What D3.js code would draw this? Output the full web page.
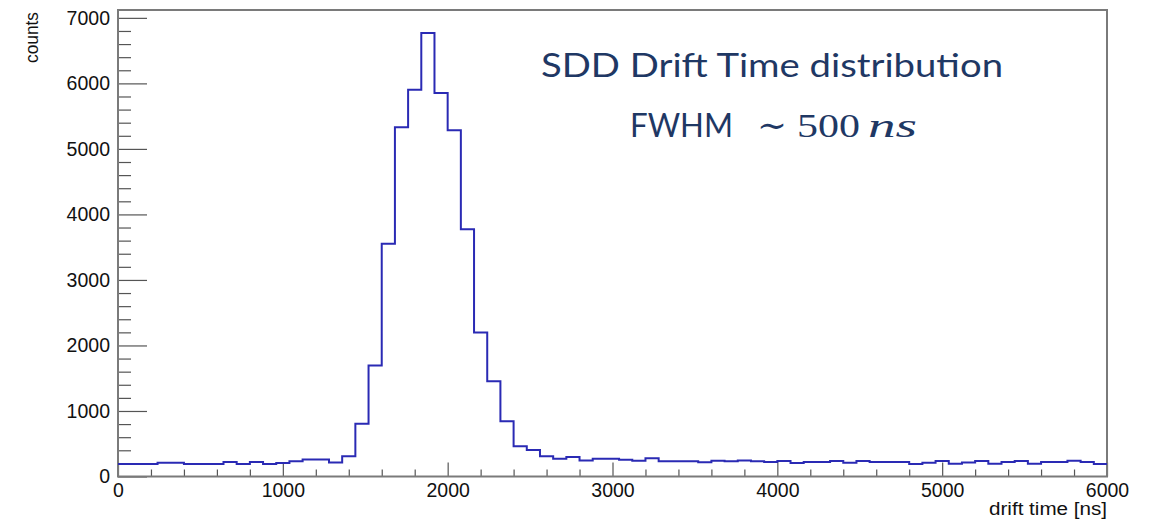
<!DOCTYPE html>
<html>
<head>
<meta charset="utf-8">
<script src="https://cdn.jsdelivr.net/npm/d3@7"></script>
<style>
  html, body { margin: 0; padding: 0; background: #fff; }
  svg { display: block; }
  .tick text { font-family: "Liberation Sans", Arial, sans-serif; fill: #111; }
</style>
</head>
<body>
<svg id="chart" width="1154" height="521"></svg>
<script>
// ---- data ----
const binWidth = 80;            // ns per bin
const xDomain = [0, 6000];      // drift time [ns]
const yDomain = [0, 7120];      // counts
const counts = [
  190, 190, 190, 210, 210, 190, 190, 190, 220, 190,
  220, 190, 205, 231, 261, 261, 215, 310, 805, 1696,
  3551, 5332, 5904, 6770, 5852, 5286, 3774, 2196, 1452, 845,
  460, 403, 310, 272, 298, 246, 271, 271, 256, 241,
  277, 231, 231, 231, 216, 241, 231, 246, 231, 220,
  236, 205, 220, 220, 236, 210, 236, 220, 220, 220,
  190, 210, 236, 195, 215, 236, 195, 220, 236, 195,
  220, 220, 241, 220, 190
];
const xMajorTicks = [0, 1000, 2000, 3000, 4000, 5000, 6000];
const yMajorTicks = [0, 1000, 2000, 3000, 4000, 5000, 6000, 7000];
const xMinorStep = 200;
const yMinorStep = 200;
const titleLine1 = "SDD Drift Time distribution";
const xTitle = "drift time [ns]";
const yTitle = "counts";

// ---- layout ----
const L = 118, R = 1107, T = 10, B = 476.5;
const svg = d3.select("#chart");

const x = d3.scaleLinear().domain(xDomain).range([L, R]);
const y = d3.scaleLinear().domain(yDomain).range([B, T]);

const xMinor = d3.range(xDomain[0], xDomain[1] + 1, xMinorStep).filter(v => !xMajorTicks.includes(v));
const yMinor = d3.range(yDomain[0], 7000 + 1, yMinorStep).filter(v => !yMajorTicks.includes(v));

// Y axis major
const gy = svg.append("g").attr("transform", `translate(${L},0)`)
  .call(d3.axisLeft(y).tickValues(yMajorTicks).tickFormat(d3.format("d"))
        .tickSizeInner(-29).tickSizeOuter(0).tickPadding(8));
gy.select(".domain").remove();
gy.selectAll(".tick line").attr("stroke", "#555").attr("stroke-width", 1.2);
gy.selectAll(".tick text").attr("font-size", 19.5);

// Y axis minor
const gym = svg.append("g").attr("transform", `translate(${L},0)`)
  .call(d3.axisLeft(y).tickValues(yMinor).tickFormat("").tickSizeInner(-13).tickSizeOuter(0));
gym.select(".domain").remove();
gym.selectAll(".tick line").attr("stroke", "#555").attr("stroke-width", 1.2);

// X axis major
const gx = svg.append("g").attr("transform", `translate(0,${B})`)
  .call(d3.axisBottom(x).tickValues(xMajorTicks).tickFormat(d3.format("d"))
        .tickSizeInner(-14).tickSizeOuter(0).tickPadding(7));
gx.select(".domain").remove();
gx.selectAll(".tick line").attr("stroke", "#555").attr("stroke-width", 1.2);
gx.selectAll(".tick text").attr("font-size", 19.5);

// X axis minor
const gxm = svg.append("g").attr("transform", `translate(0,${B})`)
  .call(d3.axisBottom(x).tickValues(xMinor).tickFormat("").tickSizeInner(-7).tickSizeOuter(0));
gxm.select(".domain").remove();
gxm.selectAll(".tick line").attr("stroke", "#555").attr("stroke-width", 1.2);

// Frame
svg.append("rect")
  .attr("x", L).attr("y", T).attr("width", R - L).attr("height", B - T)
  .attr("fill", "none").attr("stroke", "#7a7a7a").attr("stroke-width", 2);

// Histogram (step outline)
const pts = counts.map((c, i) => [i * binWidth, c]);
pts.push([xDomain[1], counts[counts.length - 1]]);
const line = d3.line().x(d => x(d[0])).y(d => y(d[1])).curve(d3.curveStepAfter);
svg.append("path")
  .attr("d", line(pts))
  .attr("fill", "none")
  .attr("stroke", "#2a2ab4")
  .attr("stroke-width", 2);

// Axis titles
svg.append("text")
  .attr("x", R).attr("y", 515)
  .attr("text-anchor", "end")
  .attr("font-family", "Liberation Sans, Arial, sans-serif")
  .attr("font-size", 18).attr("fill", "#111")
  .attr("textLength", 118).attr("lengthAdjust", "spacingAndGlyphs")
  .text(xTitle);

svg.append("text")
  .attr("transform", "translate(38,12) rotate(-90)")
  .attr("text-anchor", "end")
  .attr("font-family", "Liberation Sans, Arial, sans-serif")
  .attr("font-size", 18).attr("fill", "#111")
  .attr("textLength", 51).attr("lengthAdjust", "spacingAndGlyphs")
  .text(yTitle);

// Annotation
const navy = "#1f3864";
svg.append("text")
  .attr("x", 541).attr("y", 76.7)
  .attr("font-family", "Lato, 'Open Sans', sans-serif")
  .attr("font-size", 32).attr("fill", navy)
  .attr("textLength", 462).attr("lengthAdjust", "spacingAndGlyphs")
  .text(titleLine1);

svg.append("text")
  .attr("x", 630).attr("y", 136.7)
  .attr("font-family", "Lato, 'Open Sans', sans-serif")
  .attr("font-size", 32).attr("fill", navy)
  .attr("textLength", 103).attr("lengthAdjust", "spacingAndGlyphs")
  .text("FWHM");

svg.append("text")
  .attr("x", 757).attr("y", 137)
  .attr("font-family", "'DejaVu Serif', serif")
  .attr("font-size", 34).attr("fill", navy)
  .attr("textLength", 30).attr("lengthAdjust", "spacingAndGlyphs")
  .text("\u223C");

svg.append("text")
  .attr("x", 797).attr("y", 137.3)
  .attr("font-family", "'Liberation Serif', serif")
  .attr("font-size", 34).attr("fill", navy)
  .attr("textLength", 63).attr("lengthAdjust", "spacingAndGlyphs")
  .text("500");

svg.append("text")
  .attr("x", 868).attr("y", 137.3)
  .attr("font-family", "'Liberation Serif', serif")
  .attr("font-style", "italic")
  .attr("font-size", 34).attr("fill", navy)
  .attr("textLength", 49).attr("lengthAdjust", "spacingAndGlyphs")
  .text("ns");
</script>
</body>
</html>
